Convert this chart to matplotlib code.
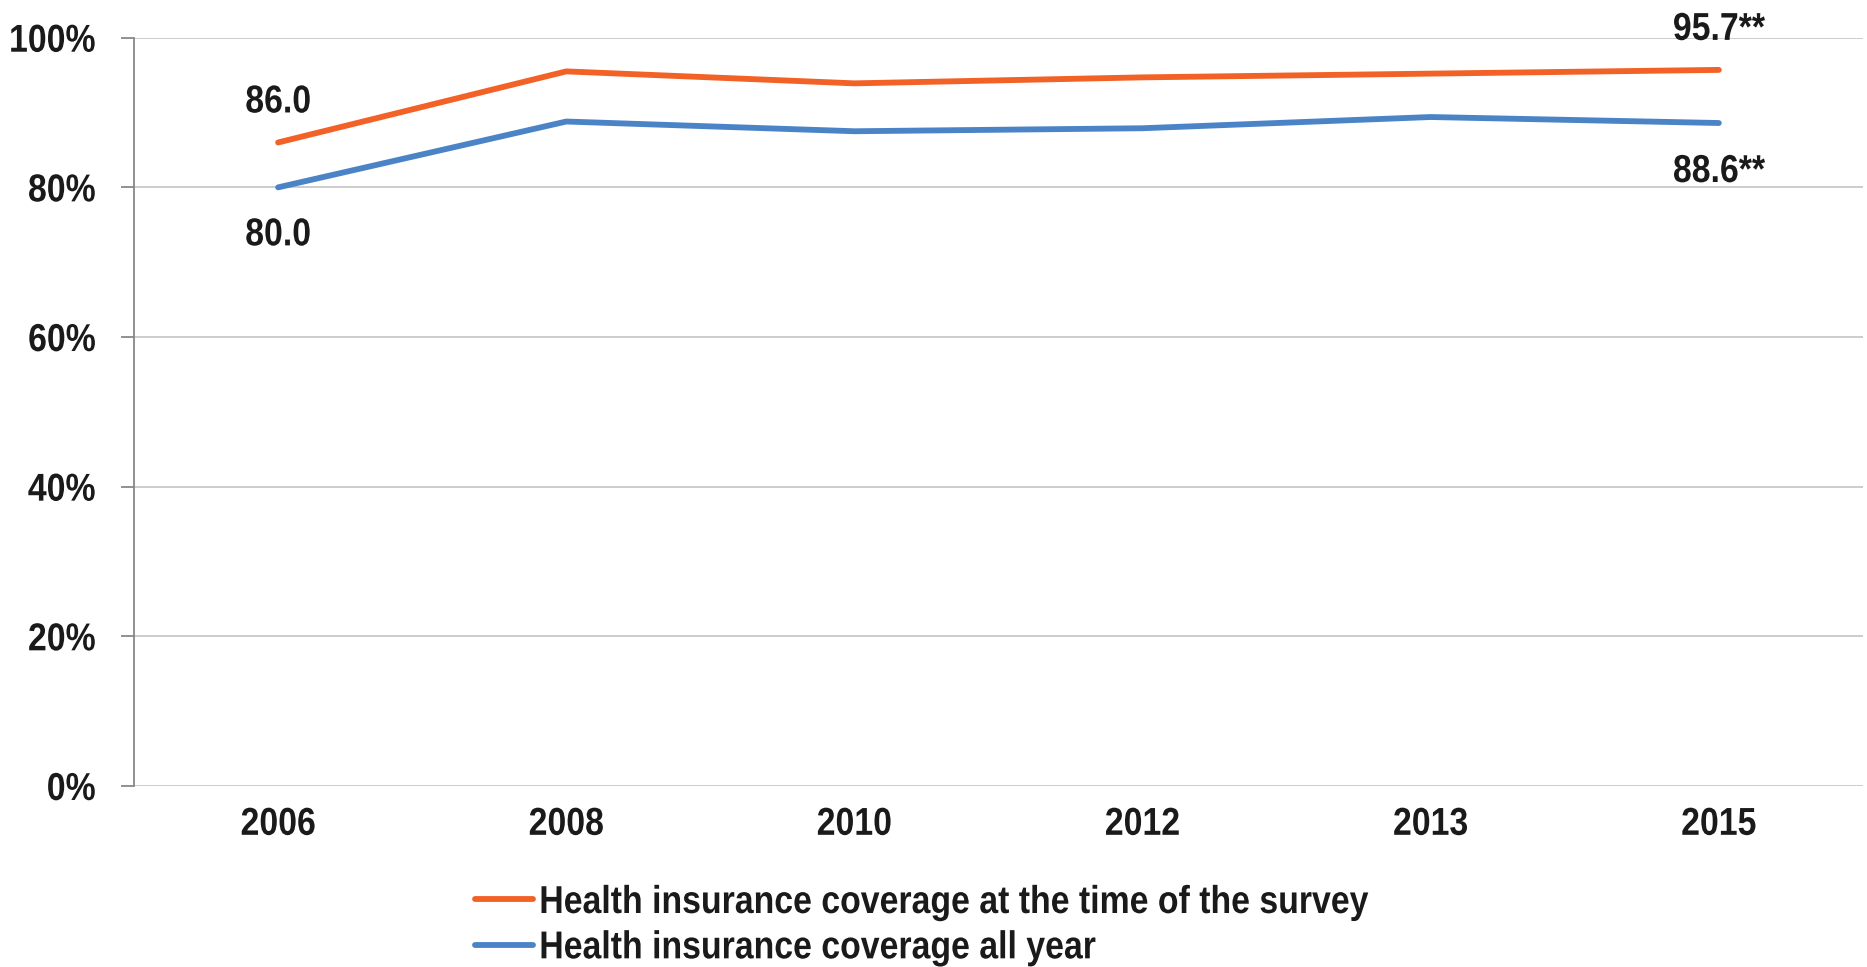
import matplotlib
matplotlib.use("Agg")
import matplotlib.pyplot as plt
from matplotlib.ticker import PercentFormatter
from matplotlib.patheffects import AbstractPathEffect
from matplotlib.transforms import Affine2D

years = ["2006", "2008", "2010", "2012", "2013", "2015"]
at_survey = [86.0, 95.5, 93.9, 94.7, 95.2, 95.7]
all_year = [80.0, 88.8, 87.5, 87.9, 89.4, 88.6]
label_survey = "Health insurance coverage at the time of the survey"
label_all = "Health insurance coverage all year"


# no narrow font installed, so squeeze the bold text sideways to look like one
class Squeeze(AbstractPathEffect):
    def __init__(self, sx=0.87, anchor="center"):
        super().__init__()
        self.sx = sx
        self.anchor = anchor

    def draw_path(self, renderer, gc, tpath, affine, rgbFace=None):
        ext = tpath.get_extents(affine)
        x0 = {"left": ext.x0, "center": (ext.x0 + ext.x1) / 2, "right": ext.x1}[self.anchor]
        affine = affine + Affine2D().translate(-x0, 0).scale(self.sx, 1).translate(x0, 0)
        renderer.draw_path(gc, tpath, affine, rgbFace)


plt.rcParams["font.family"] = ["Liberation Sans", "DejaVu Sans"]
plt.rcParams["font.weight"] = "bold"
FS = 28
TXT = "#1a1a1a"

fig = plt.figure(figsize=(18.67, 9.67), dpi=100)
ax = fig.add_axes([0.0718, 0.1872, 0.926, 0.7738])

x = list(range(len(years)))
ax.plot(x, at_survey, color="#F26125", lw=4.2, solid_capstyle="round", label=label_survey, zorder=3)
ax.plot(x, all_year, color="#4A84C6", lw=4.2, solid_capstyle="round", label=label_all, zorder=3)

ax.set_xlim(-0.5, 5.5)
ax.set_ylim(0, 100)
ax.set_yticks(range(0, 101, 20))
ax.yaxis.set_major_formatter(PercentFormatter(decimals=0))
ax.set_xticks(x)
ax.set_xticklabels(years)
ax.grid(axis="y", color="#C8C8C8", lw=1.3)
ax.set_axisbelow(True)

for s in ["top", "right", "bottom"]:
    ax.spines[s].set_visible(False)
ax.spines["left"].set_color("#888888")
ax.spines["left"].set_linewidth(1.3)

ax.tick_params(axis="y", length=9.5, width=1.3, color="#888888", pad=18, labelsize=FS, labelcolor=TXT)
ax.tick_params(axis="x", length=0, pad=15, labelsize=FS, labelcolor=TXT)
for t in ax.get_yticklabels():
    t.set_path_effects([Squeeze(anchor="right")])
for t in ax.get_xticklabels():
    t.set_path_effects([Squeeze(anchor="center")])

# value labels at the ends
end_labels = [
    (0, at_survey[0], f"{at_survey[0]:.1f}", 30),
    (0, all_year[0], f"{all_year[0]:.1f}", -58),
    (5, at_survey[-1], f"{at_survey[-1]:.1f}**", 30),
    (5, all_year[-1], f"{all_year[-1]:.1f}**", -59),
]
for xi, yi, s, dy in end_labels:
    ax.annotate(s, (xi, yi), xytext=(0, dy), textcoords="offset pixels",
                ha="center", va="baseline", fontsize=FS, color=TXT,
                path_effects=[Squeeze(anchor="center")])

leg = fig.legend(loc="upper left", bbox_to_anchor=(0.2545, 0.0848), frameon=False, fontsize=FS,
                 handlelength=1.49, handletextpad=0.15, labelspacing=0.24, borderpad=0,
                 borderaxespad=0, labelcolor=TXT)
for t in leg.get_texts():
    t.set_path_effects([Squeeze(anchor="left")])

fig.savefig("out.png", dpi=100)
